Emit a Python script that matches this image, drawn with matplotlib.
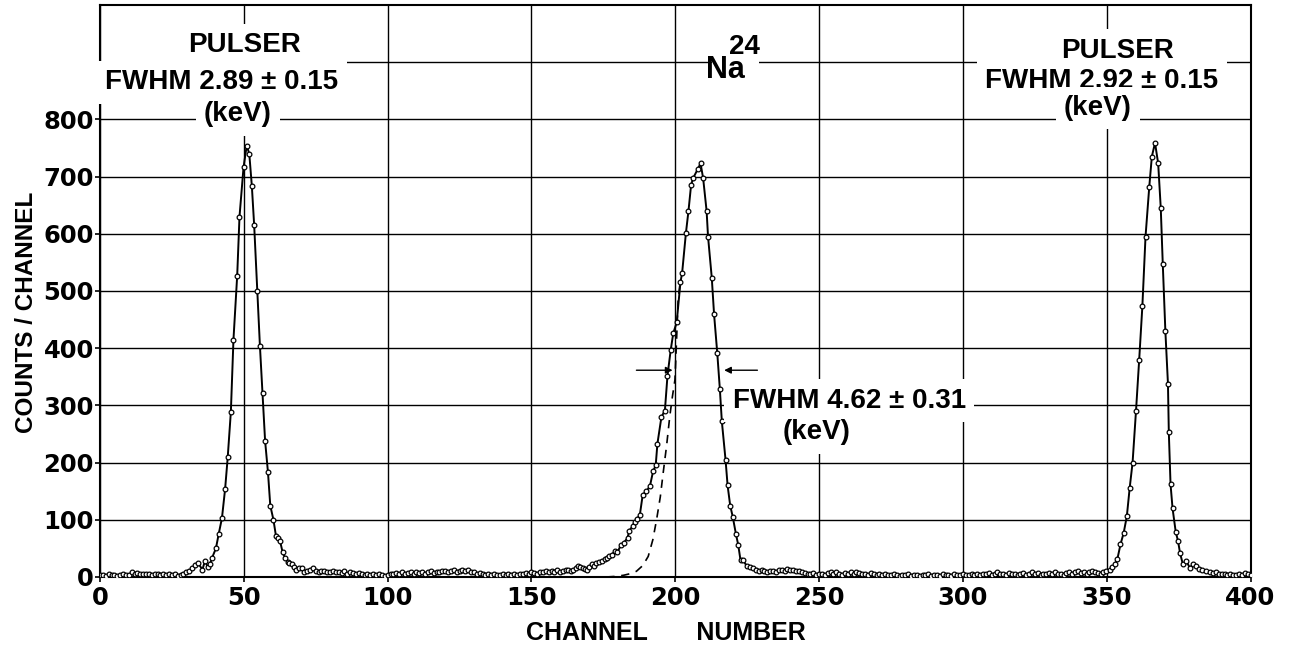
import numpy as np
import matplotlib
matplotlib.use('Agg')
import matplotlib.pyplot as plt

plt.rcParams['font.family'] = ['Liberation Sans', 'DejaVu Sans']

# background, channels 0-34
bg_a = [3, 4, 2, 5, 3, 4, 2, 3, 5, 3, 4, 8, 6, 7, 5, 6, 5, 6, 4, 5,
        5, 4, 6, 3, 5, 4, 6, 2, 4, 6, 8, 10, 15, 21, 25]
# first pulser peak
p1_ch = [35.6, 36.5, 37.4, 38.2, 39.0, 40.3, 41.3, 42.4, 43.5, 44.4,
         45.5, 46.4, 47.7, 48.5, 49.9, 51.0, 51.9, 52.8, 53.6, 54.7,
         55.6, 56.5, 57.4, 58.4, 59.2, 60.3, 61.2, 61.8, 62.6, 63.5,
         64.3, 65.2, 65.8, 66.6, 67.5, 68.1, 69.3, 70.2, 71.0, 72.0]
p1_n = [13, 28, 18, 22, 34, 50, 76, 103, 154, 209,
        289, 415, 527, 630, 716, 754, 740, 683, 615, 500,
        404, 322, 238, 183, 125, 100, 71, 68, 63, 43,
        34, 27, 24, 22, 18, 13, 15, 16, 9, 11]
# background, channels 73-159
bg_b = [12, 15, 10, 9, 11, 10, 8, 9, 11, 8,
        9, 7, 10, 6, 8, 7, 5, 7, 6, 4,
        6, 4, 5, 3, 5, 4, 2, 4, 6, 5,
        7, 6, 8, 5, 7, 9, 6, 8, 7, 9,
        6, 8, 10, 7, 9, 8, 10, 11, 8, 10,
        12, 9, 11, 13, 10, 12, 9, 8, 6, 7,
        5, 4, 6, 3, 5, 4, 3, 5, 4, 6,
        4, 5, 3, 6, 5, 7, 6, 8, 7, 6,
        9, 8, 10, 8, 11, 9, 12]
# Na24 peak
na_ch = [160.0, 161.0, 162.0, 162.8, 163.6, 164.5, 165.4, 166.3, 167.0, 167.8,
         168.5, 169.2, 170.0, 170.9, 171.8, 172.6, 173.5, 174.4, 175.5, 176.2,
         176.9, 177.9, 179.0, 179.9, 181.1, 182.1, 183.4, 184.0, 185.2, 185.9,
         186.8, 187.7, 188.7, 190.0, 191.2, 192.3, 193.2, 193.8, 195.2, 196.4,
         197.3, 198.4, 199.3, 200.5, 201.8, 202.4, 203.7, 204.6, 205.5, 206.2,
         207.8, 208.8, 209.7, 210.9, 211.4, 212.7, 213.5, 214.6, 215.5, 216.2,
         217.5, 218.2, 219.1, 220.0, 221.1, 221.9, 222.7, 223.6, 224.9, 226.0]
na_n = [8, 10, 12, 13, 11, 13, 15, 19, 17, 16,
        14, 13, 18, 22, 20, 25, 26, 28, 31, 33,
        36, 39, 45, 43, 56, 60, 68, 81, 89, 97,
        102, 109, 144, 150, 159, 185, 195, 233, 280, 291,
        352, 396, 426, 445, 515, 532, 601, 640, 685, 697,
        713, 723, 697, 640, 595, 523, 459, 392, 329, 272,
        204, 160, 125, 105, 75, 56, 29, 29, 19, 17]
# background, channels 227-348
bg_c = [15, 13, 11, 12, 10, 9, 11, 10, 8, 12,
        13, 11, 14, 12, 13, 10, 11, 8, 7, 6,
        5, 7, 4, 5, 6, 3, 7, 8, 5, 9,
        6, 4, 7, 5, 8, 6, 9, 7, 5, 6,
        4, 7, 5, 3, 6, 4, 5, 3, 4, 6,
        3, 2, 4, 3, 5, 2, 4, 3, 2, 4,
        3, 5, 2, 3, 4, 2, 5, 3, 4, 2,
        5, 3, 4, 5, 3, 4, 6, 3, 5, 4,
        6, 5, 7, 4, 6, 8, 5, 6, 4, 7,
        5, 6, 4, 5, 7, 4, 6, 8, 5, 7,
        4, 6, 5, 7, 6, 8, 5, 6, 4, 7,
        9, 6, 8, 10, 7, 9, 6, 8, 11, 9,
        7, 6]
# second pulser peak
p2_ch = [348.7, 349.9, 351.1, 352.0, 352.8, 353.7, 354.8, 355.9, 357.0, 358.0,
         359.0, 360.2, 361.3, 362.4, 363.5, 364.8, 365.7, 366.8, 367.9, 368.8,
         369.5, 370.4, 371.3, 371.6, 372.2, 372.9, 374.0, 374.8, 375.5, 376.5,
         377.7, 378.9, 380.0, 381.0, 382.0, 383.2, 384.5]
p2_n = [8, 10, 13, 17, 22, 31, 57, 77, 106, 156,
        200, 291, 380, 473, 595, 682, 735, 759, 723, 645,
        547, 430, 338, 253, 162, 120, 79, 63, 42, 22,
        28, 16, 22, 19, 14, 12, 10]
# background, channels 386-400
bg_d = [9, 7, 8, 6, 5, 6, 4, 5, 3, 4, 5, 4, 7, 5, 4]

# fitted gaussian on the low side of the Na24 peak (dashed)
fit_ch = [176.0, 179.0, 182.0, 184.5, 186.5, 188.7, 190.6, 192.2, 193.5, 194.8,
          195.8, 197.0, 198.1, 199.0, 199.9, 200.5, 201.0, 201.6]
fit_n = [0, 1, 3, 6, 10, 20, 36, 65, 100, 140,
         182, 230, 281, 315, 345, 420, 485, 511]

x_ticks = [0, 50, 100, 150, 200, 250, 300, 350, 400]
y_ticks = [0, 100, 200, 300, 400, 500, 600, 700, 800]

chan = np.concatenate([np.arange(0, 35), p1_ch, np.arange(73, 160), na_ch,
                       np.arange(227, 349), p2_ch, np.arange(386, 401)])
counts = np.concatenate([bg_a, p1_n, bg_b, na_n, bg_c, p2_n, bg_d])

W, H = 1291, 654
fig = plt.figure(figsize=(W / 100, H / 100), dpi=100)
ax = fig.add_axes([100 / W, 77 / H, 1150.5 / W, 572 / H])

ax.plot(chan, counts, '-', color='black', lw=1.4, zorder=3)
ax.plot(chan, counts, 'o', ms=3.4, mfc='white', mec='black', mew=0.9, zorder=4)
ax.plot(fit_ch, fit_n, '--', color='black', lw=1.2, dashes=(5, 4), zorder=3)

ax.set_xlim(0, 400)
ax.set_ylim(0, 1000)
ax.set_xticks(x_ticks)
ax.set_yticks(y_ticks)
ax.set_yticks([900], minor=True)
ax.grid(True, which='both', color='black', lw=1.0)
ax.set_axisbelow(True)
ax.tick_params(which='major', direction='out', length=3.5, width=1.2, pad=1)
ax.tick_params(axis='x', which='major', pad=3)
ax.tick_params(which='minor', length=0)
for lab in ax.get_xticklabels() + ax.get_yticklabels():
    lab.set_family('DejaVu Sans')
    lab.set_fontweight('bold')
    lab.set_fontsize(17.5)
for sp in ax.spines.values():
    sp.set_linewidth(1.5)

fig.text(666 / W, 1 - 633 / H, 'CHANNEL       NUMBER', ha='center', va='center',
         fontsize=18, fontweight='bold')
fig.text(27 / W, 1 - 312 / H, 'COUNTS / CHANNEL', ha='center', va='center',
         rotation=90, fontsize=17.5, fontweight='bold')

box = dict(boxstyle='square,pad=0.3', facecolor='white', edgecolor='none')
txt = dict(fontsize=20, fontweight='bold', ha='center', va='center', bbox=box, zorder=5)

# left pulser label
ax.text(50.4, 930, 'PULSER', **txt)
ax.text(42.4, 865, 'FWHM 2.89 ± 0.15', **txt)
ax.text(48.0, 809, '(keV)', **txt)
# right pulser label
ax.text(353.8, 920, 'PULSER', **txt)
ax.text(348.3, 867, 'FWHM 2.92 ± 0.15', **txt)
ax.text(346.9, 820, '(keV)', **txt)
# Na24 label: mass number sits above and over the "a"
ax.text(221.0, 900, '    ', **txt)
ax.text(217.6, 886, 'Na', fontsize=22, fontweight='bold', ha='center', va='center', zorder=6)
ax.text(224.2, 926, '24', fontsize=20, fontweight='bold', ha='center', va='center', zorder=6)
# Na24 FWHM label
ax.text(220.0, 308, 'FWHM 4.62 ± 0.31', fontsize=20, fontweight='bold', ha='left',
        va='center', bbox=box, zorder=5)
ax.text(249.2, 253, '(keV)', **txt)

# FWHM arrows at half maximum
half = max(na_n) / 2
x_left = np.interp(half, fit_n, fit_ch)
i_top = int(np.argmax(na_n))
x_right = np.interp(half, na_n[i_top:][::-1], na_ch[i_top:][::-1])
arrow = dict(arrowstyle='-|>', color='black', lw=1.0, mutation_scale=10)
ax.annotate('', xy=(x_left, half), xytext=(x_left - 14.5, half), arrowprops=arrow, zorder=5)
ax.annotate('', xy=(x_right + 1, half), xytext=(x_right + 14.5, half), arrowprops=arrow, zorder=5)

fig.savefig('out.png', dpi=100)
